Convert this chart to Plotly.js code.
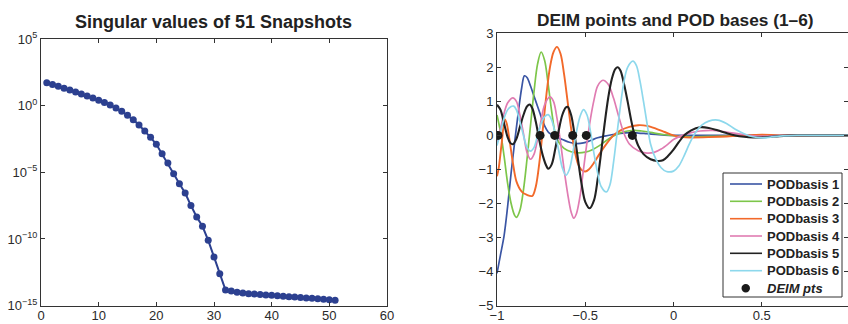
<!DOCTYPE html>
<html>
<head>
<meta charset="utf-8">
<script src="https://cdn.plot.ly/plotly-3.0.1.min.js"></script>
<style>html,body{margin:0;padding:0;background:#fff;}#chart{width:848px;height:324px;}</style>
</head>
<body>
<div id="chart"></div>
<script>
// ---- Left panel: singular values of 51 snapshots ----
const snapIndex = [1,2,3,4,5,6,7,8,9,10,11,12,13,14,15,16,17,18,19,20,21,22,23,24,25,26,27,28,29,30,31,32,33,34,35,36,37,38,39,40,41,42,43,44,45,46,47,48,49,50,51];
const singularValues = [52.5,38,28.2,20.4,14.8,10.7,7.6,5.4,3.7,2.57,1.7,1.1,0.68,0.38,0.19,0.089,0.035,0.0126,0.0042,0.00126,
  2.5e-4,5.0e-5,7.9e-6,1.4e-6,2.8e-7,3.2e-8,4.5e-9,8.9e-10,7.9e-11,4.5e-12,2.5e-13,1.48e-14,1.26e-14,1.0e-14,8.9e-15,
  7.9e-15,7.4e-15,6.9e-15,6.3e-15,5.9e-15,5.5e-15,5.0e-15,4.7e-15,4.4e-15,4.0e-15,3.7e-15,3.5e-15,3.2e-15,3.0e-15,2.8e-15,2.5e-15];
const leftYTickVals = [1e-15,1e-10,1e-5,1,1e5];
const leftYTickText = ['10<sup>−15</sup>','10<sup>−10</sup>','10<sup>−5</sup>','10<sup>0</sup>','10<sup>5</sup>'];

// ---- Right panel: POD bases 1-6 and DEIM points ----
const pod1X = [-1,-0.98,-0.96,-0.94,-0.92,-0.90,-0.88,-0.86,-0.845,-0.83,-0.81,-0.79,-0.77,-0.75,-0.73,-0.71,-0.69,-0.67,-0.63,-0.59,-0.55,-0.51,-0.47,-0.43,-0.39,-0.35,-0.30,-0.25,-0.20,-0.15,-0.10,-0.05,0,0.2,0.5,0.8,1];
const pod1Y = [-4.05,-3.5,-2.95,-2.1,-1.1,-0.2,0.65,1.4,1.75,1.7,1.45,1.15,0.85,0.55,0.28,0.1,0.02,-0.04,-0.12,-0.2,-0.24,-0.22,-0.15,-0.07,-0.02,0.02,0.06,0.08,0.07,0.05,0.03,0.01,0,0,0,0,0];

const pod2X = [-1,-0.98,-0.96,-0.94,-0.92,-0.90,-0.89,-0.87,-0.85,-0.83,-0.81,-0.79,-0.77,-0.75,-0.73,-0.71,-0.69,-0.67,-0.65,-0.62,-0.58,-0.54,-0.50,-0.46,-0.42,-0.38,-0.34,-0.30,-0.26,-0.22,-0.18,-0.14,-0.10,-0.05,0,0.05,0.1,0.2,0.3,0.4,0.5,0.8,1];
const pod2Y = [0.6,0.1,-0.6,-1.4,-2.0,-2.35,-2.41,-2.2,-1.6,-0.7,0.3,1.3,2.1,2.45,2.2,1.5,0.7,0.05,-0.2,-0.38,-0.48,-0.51,-0.49,-0.42,-0.3,-0.15,-0.02,0.08,0.13,0.15,0.13,0.1,0.06,0.02,-0.01,-0.03,-0.04,-0.03,-0.02,0,0,0,0];

const pod3X = [-1,-0.99,-0.975,-0.955,-0.945,-0.93,-0.91,-0.89,-0.86,-0.83,-0.80,-0.78,-0.76,-0.74,-0.72,-0.70,-0.68,-0.66,-0.64,-0.62,-0.60,-0.58,-0.56,-0.54,-0.52,-0.50,-0.48,-0.45,-0.42,-0.38,-0.34,-0.30,-0.25,-0.20,-0.15,-0.10,-0.05,0,0.05,0.1,0.2,0.3,0.4,0.5,0.6,0.8,1];
const pod3Y = [-1.2,-0.95,-0.3,0.47,0.35,-0.1,-0.8,-1.35,-1.65,-1.75,-1.78,-1.5,-0.8,0.2,1.2,2.0,2.45,2.6,2.4,1.8,1.0,0.2,-0.45,-0.85,-1.02,-1.06,-1.0,-0.8,-0.55,-0.25,0.0,0.15,0.25,0.3,0.28,0.2,0.1,0.0,-0.05,-0.06,-0.05,-0.03,0.0,0.02,0,0,0];

const pod4X = [-1,-0.98,-0.96,-0.94,-0.91,-0.89,-0.87,-0.85,-0.83,-0.81,-0.79,-0.77,-0.75,-0.73,-0.70,-0.68,-0.66,-0.64,-0.62,-0.60,-0.58,-0.565,-0.55,-0.53,-0.51,-0.49,-0.47,-0.45,-0.43,-0.40,-0.37,-0.34,-0.31,-0.28,-0.25,-0.20,-0.15,-0.11,-0.07,-0.03,0,0.05,0.1,0.15,0.22,0.3,0.4,0.5,0.6,0.8,1];
const pod4Y = [-0.2,0.2,0.65,0.95,1.1,1.0,0.6,0.05,-0.5,-0.7,-0.55,-0.1,0.45,0.9,1.13,1.0,0.5,-0.2,-1.0,-1.7,-2.25,-2.43,-2.3,-1.8,-1.0,-0.2,0.5,1.05,1.45,1.62,1.5,1.1,0.55,0.05,-0.25,-0.45,-0.52,-0.5,-0.4,-0.25,-0.12,0.0,0.08,0.13,0.15,0.1,0.02,-0.02,0,0,0];

const pod5X = [-1,-0.98,-0.96,-0.94,-0.925,-0.91,-0.89,-0.87,-0.85,-0.83,-0.815,-0.80,-0.78,-0.76,-0.74,-0.72,-0.71,-0.69,-0.67,-0.65,-0.63,-0.61,-0.60,-0.58,-0.56,-0.54,-0.52,-0.50,-0.475,-0.45,-0.43,-0.41,-0.39,-0.37,-0.35,-0.33,-0.315,-0.30,-0.28,-0.26,-0.24,-0.22,-0.20,-0.17,-0.13,-0.09,-0.06,-0.03,0,0.03,0.06,0.1,0.15,0.2,0.25,0.3,0.35,0.4,0.45,0.5,0.55,0.6,0.7,0.85,1];
const pod5Y = [0.9,0.75,0.35,-0.05,-0.22,-0.26,-0.1,0.25,0.6,0.85,0.91,0.8,0.4,-0.15,-0.6,-0.9,-0.98,-0.85,-0.4,0.15,0.6,0.82,0.84,0.6,0.0,-0.75,-1.45,-1.95,-2.14,-1.9,-1.3,-0.5,0.35,1.1,1.65,1.95,2.0,1.9,1.5,1.0,0.45,0.0,-0.3,-0.55,-0.7,-0.75,-0.73,-0.6,-0.42,-0.2,0.0,0.15,0.24,0.22,0.15,0.07,0.0,-0.04,-0.06,-0.06,-0.04,-0.02,0,0,0];

const pod6X = [-1,-0.98,-0.96,-0.94,-0.92,-0.905,-0.89,-0.87,-0.85,-0.83,-0.81,-0.79,-0.77,-0.75,-0.73,-0.71,-0.69,-0.67,-0.65,-0.63,-0.61,-0.59,-0.57,-0.55,-0.53,-0.51,-0.49,-0.47,-0.45,-0.43,-0.41,-0.38,-0.36,-0.34,-0.32,-0.30,-0.28,-0.26,-0.23,-0.21,-0.19,-0.17,-0.15,-0.13,-0.10,-0.07,-0.04,0,0.03,0.06,0.09,0.12,0.16,0.2,0.25,0.3,0.35,0.4,0.45,0.5,0.55,0.6,0.7,0.85,1];
const pod6Y = [-0.3,0.1,0.5,0.75,0.85,0.86,0.75,0.4,0.0,-0.35,-0.46,-0.35,0.0,0.35,0.55,0.61,0.45,0.05,-0.45,-0.95,-1.17,-1.0,-0.5,0.1,0.55,0.76,0.6,0.1,-0.55,-1.1,-1.5,-1.66,-1.45,-0.8,0.05,0.9,1.6,2.0,2.18,2.05,1.6,1.0,0.35,-0.25,-0.7,-0.95,-1.06,-1.05,-0.9,-0.6,-0.25,0.05,0.3,0.42,0.45,0.35,0.18,0.05,-0.04,-0.07,-0.05,-0.02,0,0,0];

const deimX = [-0.994,-0.756,-0.673,-0.571,-0.494,-0.233];
const deimY = [0,0,0,0,0,0];

const podNames = ['PODbasis 1','PODbasis 2','PODbasis 3','PODbasis 4','PODbasis 5','PODbasis 6'];
const deimName = 'DEIM pts';
const podColors = ['#3a55a4','#7dc64a','#f2692a','#e07cb2','#222222','#8dd8ec'];
const podWidths = [1.7,1.7,1.9,1.7,2.1,1.7];
const podXs = [pod1X,pod2X,pod3X,pod4X,pod5X,pod6X];
const podYs = [pod1Y,pod2Y,pod3Y,pod4Y,pod5Y,pod6Y];

const W = 848, H = 324;
const FONT = 'Liberation Sans, Arial, Helvetica, sans-serif';
const traces = [];
traces.push({
  x: snapIndex, y: singularValues, xaxis:'x', yaxis:'y', type:'scatter', mode:'lines+markers',
  line:{color:'#2c4090', width:2}, marker:{color:'#2c4090', size:7, symbol:'circle'}, showlegend:false
});
for (let i=0;i<6;i++){
  traces.push({
    x: podXs[i], y: podYs[i], xaxis:'x2', yaxis:'y2', type:'scatter', mode:'lines', showlegend:false,
    name: podNames[i], line:{color:podColors[i], width:podWidths[i], shape:'spline', smoothing:0.9}
  });
}
traces.push({
  x: deimX, y: deimY, xaxis:'x2', yaxis:'y2', type:'scatter', mode:'markers', showlegend:false,
  name: deimName, marker:{color:'#1a1a1a', size:9, symbol:'circle'}
});

const axFont = {family:FONT, size:13, color:'#2a2a2a'};
const common = {showgrid:false, zeroline:false, showline:true, linecolor:'#333', linewidth:1,
  mirror:'ticks', ticks:'inside', ticklen:4, tickcolor:'#333', tickfont:axFont};
const xCommon = Object.assign({}, common, {ticklabelstandoff:-2});

// custom legend (MATLAB-style compact box)
const px = v => v / W, py = v => 1 - v / H;
const legBox = {l:723, r:842, t:173, b:297};
const rowY = [184, 201.3, 218.7, 236, 253.3, 270.7, 288.3];
const shapes = [{type:'rect', xref:'paper', yref:'paper', x0:px(legBox.l), x1:px(legBox.r), y0:py(legBox.b), y1:py(legBox.t),
  line:{color:'#333', width:1}, fillcolor:'#fff', layer:'above'}];
const annotations = [
  {text:'<b>Singular values of 51 Snapshots</b>', xref:'paper', yref:'paper', x:px(213), y:py(22),
   xanchor:'center', yanchor:'middle', showarrow:false, font:{family:FONT, size:18, color:'#222'}},
  {text:'<b>DEIM points and POD bases (1–6)</b>', xref:'paper', yref:'paper', x:px(675), y:py(20),
   xanchor:'center', yanchor:'middle', showarrow:false, font:{family:FONT, size:17.3, color:'#222'}}
];
for (let i=0;i<6;i++){
  shapes.push({type:'line', xref:'paper', yref:'paper', x0:px(730), x1:px(762), y0:py(rowY[i]), y1:py(rowY[i]),
    line:{color:podColors[i], width:1.6}, layer:'above'});
  annotations.push({text:'<b>'+podNames[i]+'</b>', xref:'paper', yref:'paper', x:px(765), y:py(rowY[i]),
    xanchor:'left', yanchor:'middle', showarrow:false, font:{family:FONT, size:13, color:'#222'}});
}
shapes.push({type:'circle', xref:'paper', yref:'paper', x0:px(741.5), x1:px(750), y0:py(rowY[6]+4.2), y1:py(rowY[6]-4.2),
  line:{color:'#1a1a1a', width:0}, fillcolor:'#1a1a1a', layer:'above'});
annotations.push({text:'<b><i>'+deimName+'</i></b>', xref:'paper', yref:'paper', x:px(765), y:py(rowY[6]),
  xanchor:'left', yanchor:'middle', showarrow:false, font:{family:FONT, size:13, color:'#222'}});

const layout = {
  width:W, height:H, margin:{l:0,r:0,t:0,b:0}, paper_bgcolor:'#fff', plot_bgcolor:'#fff',
  showlegend:false,
  xaxis: Object.assign({}, xCommon, {domain:[41/W, 387/W], range:[0,60], dtick:10, anchor:'y'}),
  yaxis: Object.assign({}, common, {domain:[1-305.6/H, 1-39/H], type:'log', range:[-15,5],
    tickmode:'array', tickvals:leftYTickVals, ticktext:leftYTickText, anchor:'x'}),
  xaxis2: Object.assign({}, xCommon, {domain:[497/W, 1], range:[-1, 0.9887], dtick:0.5, anchor:'y2'}),
  yaxis2: Object.assign({}, common, {domain:[1-305.6/H, 1-33.3/H], range:[-5,3], dtick:1, anchor:'x2'}),
  shapes: shapes,
  annotations: annotations
};

Plotly.newPlot('chart', traces, layout, {displayModeBar:false, staticPlot:true});
</script>
</body>
</html>
